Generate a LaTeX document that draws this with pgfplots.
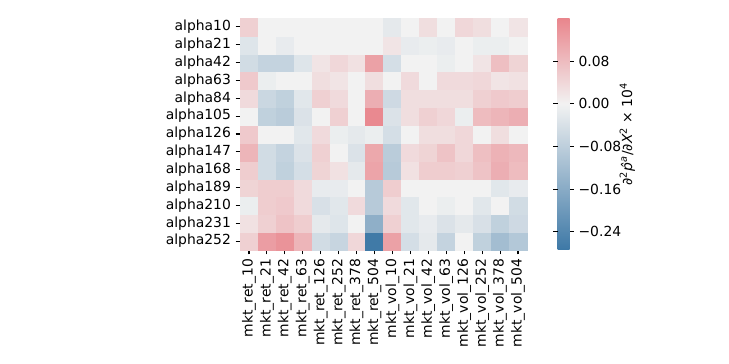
\documentclass[border=0pt]{standalone}
\usepackage{pgfplots}
\pgfplotsset{compat=1.18}
\usepackage{fontspec}
\setmainfont{DejaVu Sans}
\newcommand\fs{\fontsize{13.9bp}{16bp}\selectfont}
\begin{document}
\fs
\begin{tikzpicture}
\begin{axis}[
  at={(240bp,-18bp)}, anchor=north west,
  scale only axis, width=287bp, height=232bp,
  xmin=-0.5, xmax=15.5, ymin=-0.5, ymax=12.5,
  axis line style={draw=none},
  xtick={0,...,15}, ytick={0,...,12},
  xticklabels={mkt\_ret\_10,mkt\_ret\_21,mkt\_ret\_42,mkt\_ret\_63,mkt\_ret\_126,mkt\_ret\_252,mkt\_ret\_378,mkt\_ret\_504,mkt\_vol\_10,mkt\_vol\_21,mkt\_vol\_42,mkt\_vol\_63,mkt\_vol\_126,mkt\_vol\_252,mkt\_vol\_378,mkt\_vol\_504},
  yticklabels={alpha252,alpha231,alpha210,alpha189,alpha168,alpha147,alpha126,alpha105,alpha84,alpha63,alpha42,alpha21,alpha10},
  x tick label style={rotate=90, anchor=east, font=\fs},
  y tick label style={font=\fs},
  tick align=outside, xtick pos=left, ytick pos=left,
  tick style={black, line width=1.1bp},
  colormap={hm}{rgb255(0pt)=(61,120,166); rgb255(274pt)=(242,242,242); rgb255(435pt)=(233,133,140)},
  point meta min=-0.274, point meta max=0.161,
  colorbar,
  colorbar style={
    at={(parent axis.north east)}, anchor=north west, xshift=22bp,
    width=12bp,
    axis line style={draw=none},
    ytick={-0.24,-0.16,-0.08,0,0.08},
    yticklabels={−0.24,−0.16,−0.08,0.00,0.08},
    y tick label style={font=\fs},
    tick align=outside,
    tick style={black, line width=1.1bp},
    ylabel={∂\textsuperscript{2}\textit{\^{p}}\textsuperscript{\textit{a}}/∂\textit{X}\textsuperscript{2} × 10\textsuperscript{4}},
    ylabel style={font=\fs},
    ylabel shift=-11bp,
  },
]
\addplot[scatter, only marks, mark=square*, mark size=8.97bp,
  mark options={line width=0.2bp},
  scatter/use mapped color={draw=mapped color, fill=mapped color},
  point meta=explicit] coordinates {
(0,0)[0.05] (1,0)[0.125] (2,0)[0.14] (3,0)[0.09] (4,0)[-0.05] (5,0)[-0.065] (6,0)[0.04] (7,0)[-0.27] (8,0)[0.12] (9,0)[-0.045] (10,0)[-0.02] (11,0)[-0.07] (12,0)[0] (13,0)[-0.075] (14,0)[-0.12] (15,0)[-0.095]
(0,1)[0.025] (1,1)[0.05] (2,1)[0.07] (3,1)[0.055] (4,1)[-0.02] (5,1)[-0.03] (6,1)[0] (7,1)[-0.15] (8,1)[0.05] (9,1)[-0.025] (10,1)[-0.015] (11,1)[-0.035] (12,1)[-0.02] (13,1)[-0.04] (14,1)[-0.075] (15,1)[-0.055]
(0,2)[-0.01] (1,2)[0.055] (2,2)[0.06] (3,2)[0.035] (4,2)[-0.04] (5,2)[-0.025] (6,2)[0.035] (7,2)[-0.09] (8,2)[0.035] (9,2)[-0.025] (10,2)[0] (11,2)[-0.01] (12,2)[0] (13,2)[-0.025] (14,2)[0] (15,2)[-0.05]
(0,3)[0.045] (1,3)[0.055] (2,3)[0.055] (3,3)[0.035] (4,3)[-0.015] (5,3)[-0.015] (6,3)[0] (7,3)[-0.09] (8,3)[0.055] (9,3)[0] (10,3)[0] (11,3)[0] (12,3)[0] (13,3)[0] (14,3)[-0.025] (15,3)[-0.015]
(0,4)[0.055] (1,4)[-0.05] (2,4)[-0.075] (3,4)[-0.045] (4,4)[0.045] (5,4)[0.025] (6,4)[-0.02] (7,4)[0.115] (8,4)[-0.09] (9,4)[0.025] (10,4)[0.055] (11,4)[0.055] (12,4)[0.05] (13,4)[0.07] (14,4)[0.10] (15,4)[0.08]
(0,5)[0.09] (1,5)[-0.05] (2,5)[-0.07] (3,5)[-0.035] (4,5)[0.05] (5,5)[0] (6,5)[-0.035] (7,5)[0.11] (8,5)[-0.085] (9,5)[0.035] (10,5)[0.045] (11,5)[0.07] (12,5)[0.04] (13,5)[0.075] (14,5)[0.095] (15,5)[0.085]
(0,6)[0.06] (1,6)[0] (2,6)[0] (3,6)[-0.025] (4,6)[0.035] (5,6)[-0.01] (6,6)[-0.02] (7,6)[-0.01] (8,6)[-0.045] (9,6)[0] (10,6)[0.03] (11,6)[0.03] (12,6)[0.04] (13,6)[0] (14,6)[0.03] (15,6)[0]
(0,7)[0] (1,7)[-0.075] (2,7)[-0.085] (3,7)[-0.035] (4,7)[0] (5,7)[0.05] (6,7)[0] (7,7)[0.155] (8,7)[-0.035] (9,7)[0.03] (10,7)[0.05] (11,7)[0.04] (12,7)[-0.01] (13,7)[0.08] (14,7)[0.09] (15,7)[0.10]
(0,8)[0.035] (1,8)[-0.06] (2,8)[-0.075] (3,8)[-0.025] (4,8)[0.05] (5,8)[0.035] (6,8)[0] (7,8)[0.10] (8,8)[-0.055] (9,8)[0.03] (10,8)[0.03] (11,8)[0.03] (12,8)[0.03] (13,8)[0.05] (14,8)[0.06] (15,8)[0.055]
(0,9)[0.06] (1,9)[-0.01] (2,9)[0] (3,9)[0] (4,9)[0.03] (5,9)[0.02] (6,9)[0] (7,9)[0.03] (8,9)[0] (9,9)[0.035] (10,9)[0] (11,9)[0.035] (12,9)[0.035] (13,9)[0.04] (14,9)[0.02] (15,9)[0.025]
(0,10)[-0.05] (1,10)[-0.07] (2,10)[-0.07] (3,10)[-0.03] (4,10)[0.02] (5,10)[0.04] (6,10)[0.025] (7,10)[0.12] (8,10)[-0.045] (9,10)[0] (10,10)[0] (11,10)[-0.01] (12,10)[0] (13,10)[0.02] (14,10)[0.075] (15,10)[0.045]
(0,11)[-0.03] (1,11)[0] (2,11)[-0.015] (3,11)[0] (4,11)[0] (5,11)[0] (6,11)[0] (7,11)[0] (8,11)[0.02] (9,11)[-0.015] (10,11)[-0.01] (11,11)[-0.015] (12,11)[0] (13,11)[-0.01] (14,11)[-0.01] (15,11)[0]
(0,12)[0.05] (1,12)[0] (2,12)[0] (3,12)[0] (4,12)[0] (5,12)[0] (6,12)[0] (7,12)[0] (8,12)[-0.02] (9,12)[0] (10,12)[0.03] (11,12)[0] (12,12)[0.04] (13,12)[0.03] (14,12)[0] (15,12)[0.02]
};
\end{axis}
\path (0,0) rectangle (729bp,-364bp);
\end{tikzpicture}
\end{document}
